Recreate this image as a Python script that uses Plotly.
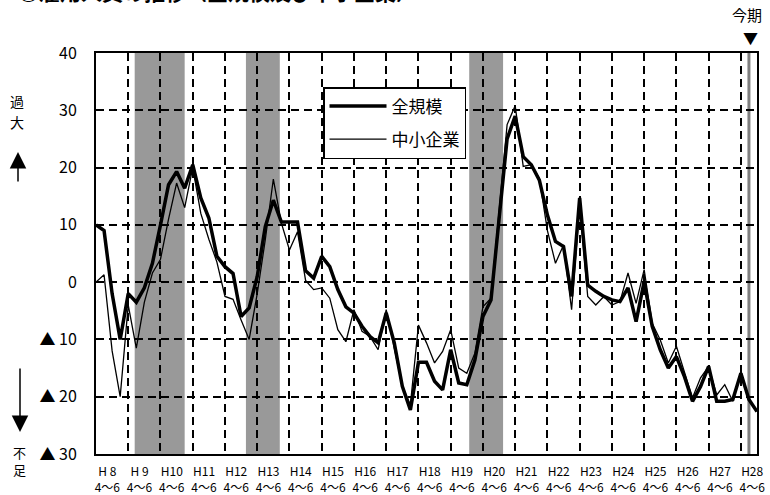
import plotly.graph_objects as go

# Quarter index 0 = H8 4~6 ... 82 = H28 10~12
all_scale = [10, 9, -2, -10, -2, -3.5, -1, 3.3, 10, 17, 19.3, 16.4, 20.5, 14.7, 11.2, 4.5,
             2.7, 1.5, -6, -4.5, 1, 9.7, 14.3, 10.5, 10.5, 10.5, 2, 0.7, 4.5, 2.7, -1.3, -4.3,
             -5.4, -7.7, -9.5, -10.6, -5.4, -10.6, -18.2, -22.3, -14, -14, -17.3, -18.8, -11.8, -17.6, -17.9, -13.6,
             -6, -3.1, 11, 25, 29, 21.9, 20.5, 17.8, 11.7, 7.1, 6.2, -2.5, 14.7, -0.5, -1.6, -2.5,
             -3.1, -3.4, -1, -6.9, 0.1, -7.7, -11.8, -15, -13, -16.5, -20.8, -18.2, -14.7, -20.8, -20.8, -20.5,
             -15.9, -20.5, -22.6]
small_firms = [0, 1.3, -12, -20, -4, -11.5, -3.5, 1.6, 4, 11, 17.3, 13, 20, 12, 7.5, 3.5,
               -2.5, -3, -6.6, -10, -2, 7.4, 18, 10.3, 5.6, 8.8, 0.3, -1.3, -1, -2.8, -8.3, -10.4,
               -4.8, -8.6, -9.5, -11.8, -4.8, -11.2, -18.2, -21.4, -7.5, -10.6, -14.1, -12.1, -8.3, -15, -15.9, -12.4,
               -4.3, -2.8, 12, 27.5, 30.8, 20.2, 20.5, 18.1, 9, 3.3, 6.5, -4.8, 13.5, -2.5, -4, -2.5,
               -4, -3.4, 1.6, -3.7, 2.2, -7.2, -10.1, -14.1, -11.2, -15.9, -20.2, -16.7, -14.7, -19.7, -17.9, -20.8,
               -15.6, -20.5, -22.5]
quarters = list(range(len(all_scale)))

year_labels = ["H 8", "H 9", "H10", "H11", "H12", "H13", "H14", "H15", "H16", "H17", "H18",
               "H19", "H20", "H21", "H22", "H23", "H24", "H25", "H26", "H27", "H28"]
quarter_label = "4～6"

# recession shading (quarter index start, end)
recessions = [(4.8, 11.0), (18.6, 22.8), (46.3, 50.5)]
current_period = 81

y_vals = [-30, -20, -10, 0, 10, 20, 30, 40]
y_text = ["▲ 30", "▲ 20", "▲ 10", "0", "10", "20", "30", "40"]

JP = "Noto Sans CJK JP"

fig = go.Figure()
fig.add_trace(go.Scatter(x=quarters, y=all_scale, mode="lines", name="全規模", legendgroup="a",
                         line=dict(color="black", width=3.5)))
fig.add_trace(go.Scatter(x=quarters, y=small_firms, mode="lines", name="中小企業", legendgroup="b",
                         line=dict(color="black", width=1.3)))

for a, b in recessions:
    fig.add_shape(type="rect", xref="x", yref="paper", x0=a, x1=b, y0=0, y1=1,
                  fillcolor="#999999", line=dict(width=0), layer="below")
fig.add_shape(type="line", xref="x", yref="paper", x0=current_period, x1=current_period, y0=0, y1=1,
              line=dict(color="#808080", width=3), layer="below")

tickpos = [4 * k + 1.4 for k in range(len(year_labels))]
ticktext = [f"{y}<br>{quarter_label}" for y in year_labels]

fig.update_xaxes(range=[0, 82], tickvals=tickpos, ticktext=ticktext, automargin=False,
                 ticks="outside", ticklen=6, tickcolor="rgba(0,0,0,0)",
                 tickfont=dict(family=JP, size=12, color="black"),
                 showgrid=False, zeroline=False,
                 showline=True, linecolor="black", linewidth=2, mirror=True,
                 minor=dict(tick0=0, dtick=4, showgrid=True, gridcolor="black",
                            gridwidth=1.5, griddash="8px,5px", ticks=""))
fig.update_yaxes(range=[-30, 40], tickvals=y_vals, ticktext=y_text, automargin=False,
                 ticks="outside", ticklen=14, tickcolor="rgba(0,0,0,0)",
                 tickfont=dict(family=JP, size=16, color="black"),
                 showgrid=True, gridcolor="black", gridwidth=1.5, griddash="8px,5px",
                 zeroline=False, showline=True, linecolor="black", linewidth=2, mirror=True)

W, H = 770, 495
L, R, T, B = 96, 13, 53, 41
pw, ph = W - L - R, H - T - B


def px(x):
    return (x - L) / pw


def py(y):
    return (H - B - y) / ph


def label(x, y, text, size=14, xref="paper", xshift=0):
    return dict(x=x, y=y, xref=xref, yref="paper", text=text, showarrow=False,
                xanchor="center", yanchor="middle", xshift=xshift,
                font=dict(family=JP, size=size, color="black"))


ann = []
ann.append(label(px(17), py(101), "過"))
ann.append(label(px(17), py(122), "大"))
ann.append(label(px(19), py(461), "不<br>足", size=13))
ann.append(dict(x=px(18), y=py(152), xref="paper", yref="paper", text="", showarrow=True,
                ax=0, ay=31, arrowhead=2, arrowsize=2.2, arrowwidth=1.5, arrowcolor="black"))
ann.append(dict(x=px(20), y=py(432), xref="paper", yref="paper", text="", showarrow=True,
                ax=0, ay=-65, arrowhead=2, arrowsize=2.2, arrowwidth=1.5, arrowcolor="black"))
ann.append(label(current_period, py(15), "今期", size=15, xref="x", xshift=-2))
ann.append(label(current_period, py(37), "▼", size=15, xref="x", xshift=2))
ann.append(dict(x=px(16), y=py(8), xref="paper", yref="paper", xanchor="left", yanchor="bottom",
                text="<b>◎雇用人員の推移（全規模及び中小企業）</b>", showarrow=False,
                font=dict(family=JP, size=21, color="black")))

fig.update_layout(
    width=W, height=H,
    margin=dict(l=L, r=R, t=T, b=B),
    paper_bgcolor="white", plot_bgcolor="white",
    annotations=ann,
    legend=dict(x=px(323), y=py(87), xanchor="left", yanchor="top",
                bgcolor="white", bordercolor="black", borderwidth=1.5,
                font=dict(family=JP, size=17, color="black"),
                tracegroupgap=8, itemwidth=57),
    font=dict(family=JP, color="black"),
)

fig.write_html("out.html", config={"displayModeBar": False},
               post_script="document.body.style.margin='0';")
